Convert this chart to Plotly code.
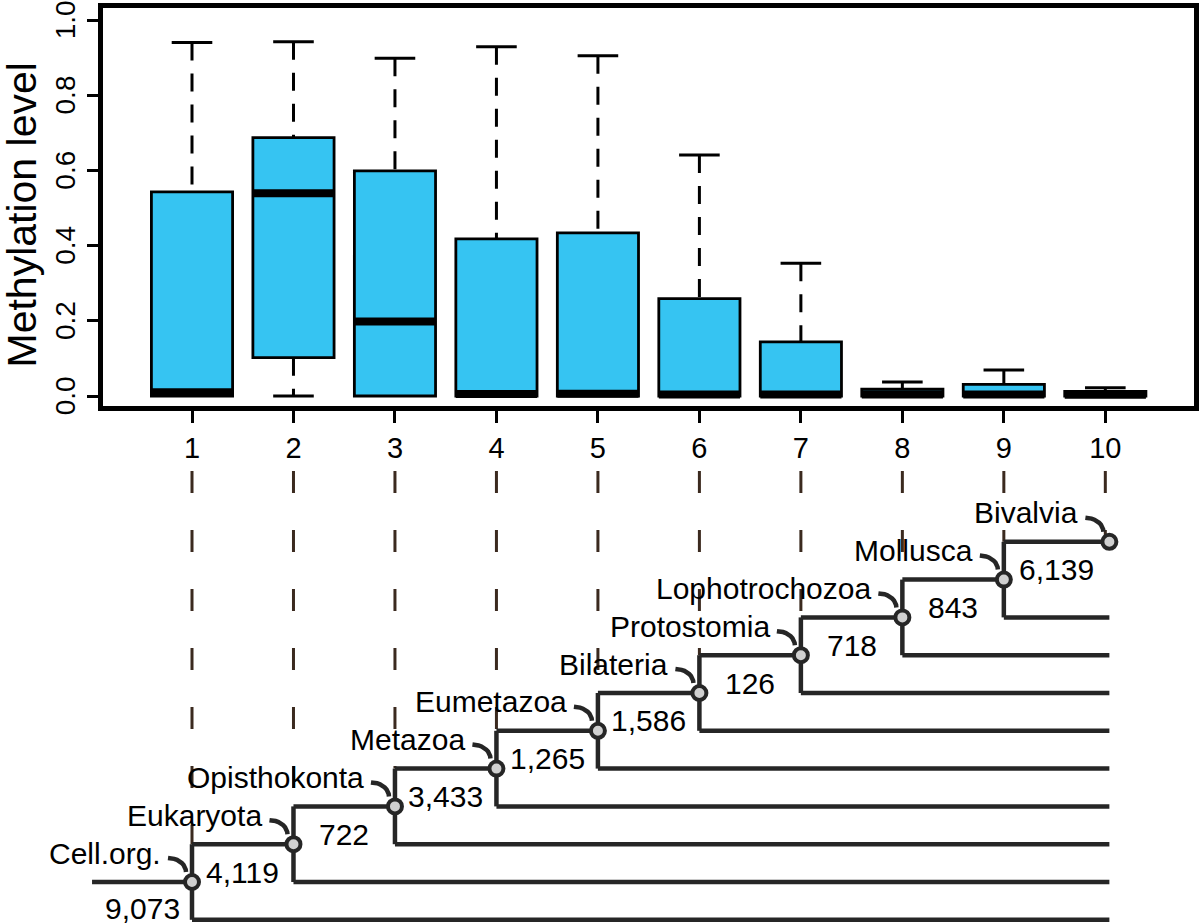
import math
import plotly.graph_objects as go

# ---------------- data ----------------
categories = [1, 2, 3, 4, 5, 6, 7, 8, 9, 10]
q1 = [0.0, 0.102, 0.0, 0.0, 0.0, 0.0, 0.0, 0.0, 0.0, 0.0]
median = [0.010, 0.539, 0.198, 0.005, 0.006, 0.004, 0.004, 0.004, 0.004, 0.003]
q3 = [0.543, 0.687, 0.599, 0.418, 0.434, 0.259, 0.144, 0.018, 0.031, 0.012]
lower_whisker = [0.0, 0.0, 0.0, 0.0, 0.0, 0.0, 0.0, 0.0, 0.0, 0.0]
upper_whisker = [0.940, 0.942, 0.898, 0.929, 0.905, 0.641, 0.353, 0.037, 0.069, 0.022]

clades = ["Cell.org.", "Eukaryota", "Opisthokonta", "Metazoa", "Eumetazoa",
          "Bilateria", "Protostomia", "Lophotrochozoa", "Mollusca", "Bivalvia"]
gene_counts = [9073, 4119, 722, 3433, 1265, 1586, 126, 718, 843, 6139]

y_ticks = [0.0, 0.2, 0.4, 0.6, 0.8, 1.0]

# ---------------- styles / geometry ----------------
W, H = 1200, 924
FONT = "Liberation Sans, Arial, Helvetica, sans-serif"
BOX_FILL = "#36C4F2"
TREE_COL = "#262626"
DASH_COL = "#3b2a1f"

# pixel geometry of the top panel
PX_POS1 = 192.0       # pixel x of category 1
PX_PER_X = 101.48     # pixels per category
PX_Y0 = 396.0         # pixel y of value 0
PX_PER_Y = 376.0      # pixels per unit value
IN_L, IN_R, IN_T, IN_B = 102.5, 1193.5, 8.3, 406.0

# pixel geometry of the tree panel
PX_LEVEL0 = 919.8
PX_PER_LEVEL = 37.8
TREE_TOP_PX = 455.0


def xr(px):
    return 1 + (px - PX_POS1) / PX_PER_X


def yr(px):
    return (PX_Y0 - px) / PX_PER_Y


def lvl(px):
    return (PX_LEVEL0 - px) / PX_PER_LEVEL


fig = go.Figure()

# ---------------- boxplot ----------------
fig.add_trace(go.Box(
    x=categories, q1=q1, median=median, q3=q3,
    lowerfence=q1, upperfence=q3,
    width=0.8, whiskerwidth=0, boxpoints=False,
    fillcolor=BOX_FILL, line=dict(color="black", width=2.8),
    xaxis="x", yaxis="y", showlegend=False, hoverinfo="skip",
))

# dashed whiskers
wx, wy = [], []
for c, lo, a, b, hi in zip(categories, lower_whisker, q1, q3, upper_whisker):
    wx += [c, c, None]
    wy += [hi, b, None]
    if a > lo:
        wx += [c, c, None]
        wy += [a, lo, None]
fig.add_trace(go.Scatter(x=wx, y=wy, mode="lines",
                         line=dict(color="black", width=3, dash="18px,13px"),
                         xaxis="x", yaxis="y", showlegend=False, hoverinfo="skip"))

# whisker caps
cx, cy = [], []
for c, lo, a, hi in zip(categories, lower_whisker, q1, upper_whisker):
    cx += [c - 0.2, c + 0.2, None]
    cy += [hi, hi, None]
    if a > lo:
        cx += [c - 0.2, c + 0.2, None]
        cy += [lo, lo, None]
fig.add_trace(go.Scatter(x=cx, y=cy, mode="lines",
                         line=dict(color="black", width=3),
                         xaxis="x", yaxis="y", showlegend=False, hoverinfo="skip"))

# thick medians
mx, my = [], []
for c, m in zip(categories, median):
    mx += [c - 0.4, c + 0.4, None]
    my += [m, m, None]
fig.add_trace(go.Scatter(x=mx, y=my, mode="lines",
                         line=dict(color="black", width=8),
                         xaxis="x", yaxis="y", showlegend=False, hoverinfo="skip"))

# ---------------- tree ----------------
n = len(clades)
node_x = list(categories[:-1]) + [categories[-1] + 0.04]
node_lvl = list(range(1, n + 1))
leaf_end = node_x[-1]
root_start = node_x[0] - 0.985
dash_top = lvl(471)

# dashed connectors from categories down to tree
dx, dy = [], []
for i, c in enumerate(categories):
    end = node_lvl[i] + 1 if i < n - 1 else node_lvl[i]
    dx += [c, c, None]
    dy += [dash_top, end, None]
fig.add_trace(go.Scatter(x=dx, y=dy, mode="lines",
                         line=dict(color=DASH_COL, width=3, dash="22px,37px"),
                         xaxis="x2", yaxis="y2", showlegend=False, hoverinfo="skip"))

tx, ty = [root_start, node_x[0], None], [node_lvl[0], node_lvl[0], None]
for i in range(n - 1):
    x0, L = node_x[i], node_lvl[i]
    tx += [x0, x0, None, x0, leaf_end, None, x0, node_x[i + 1], None]
    ty += [L - 1, L + 1, None, L - 1, L - 1, None, L + 1, L + 1, None]
fig.add_trace(go.Scatter(x=tx, y=ty, mode="lines",
                         line=dict(color=TREE_COL, width=4.5),
                         xaxis="x2", yaxis="y2", showlegend=False, hoverinfo="skip"))

# curved pointers from clade names to nodes
ax_, ay_ = [], []
rx, ry = 18 / PX_PER_X, 14 / PX_PER_LEVEL
for i in range(n):
    xc = node_x[i] - 24 / PX_PER_X
    yc = node_lvl[i] + 10 / PX_PER_LEVEL
    for t in range(0, 91, 10):
        th = math.radians(90 - t)
        ax_.append(xc + rx * math.cos(th))
        ay_.append(yc + ry * math.sin(th))
    ax_.append(None)
    ay_.append(None)
fig.add_trace(go.Scatter(x=ax_, y=ay_, mode="lines",
                         line=dict(color=TREE_COL, width=4.5),
                         xaxis="x2", yaxis="y2", showlegend=False, hoverinfo="skip"))

# node circles
fig.add_trace(go.Scatter(x=node_x, y=node_lvl, mode="markers",
                         marker=dict(size=14, color="#d0d0d0",
                                     line=dict(color=TREE_COL, width=4)),
                         xaxis="x2", yaxis="y2", showlegend=False, hoverinfo="skip",
                         cliponaxis=False))

annotations = []
for i in range(n):
    annotations.append(dict(
        x=node_x[i] - 29 / PX_PER_X, y=node_lvl[i] + 29 / PX_PER_LEVEL,
        xref="x2", yref="y2", text=clades[i], showarrow=False,
        xanchor="right", yanchor="middle",
        font=dict(family=FONT, size=30, color="black")))
    if i == 0:
        nx_, ny_ = node_x[0] - 0.49, node_lvl[0] - 26 / PX_PER_LEVEL
    else:
        nx_ = (node_x[i - 1] + node_x[i]) / 2
        ny_ = node_lvl[i - 1] + 10 / PX_PER_LEVEL
    annotations.append(dict(
        x=nx_, y=ny_, xref="x2", yref="y2", text=f"{gene_counts[i]:,}",
        showarrow=False, xanchor="center", yanchor="middle",
        font=dict(family=FONT, size=30, color="black")))

annotations.append(dict(
    x=21 / W, y=(H - 215.5) / H, xref="paper", yref="paper",
    text="Methylation level", textangle=-90, showarrow=False,
    xanchor="center", yanchor="middle",
    font=dict(family=FONT, size=41, color="black")))

fig.update_layout(
    width=W, height=H,
    margin=dict(l=0, r=0, t=0, b=0, pad=0),
    paper_bgcolor="white", plot_bgcolor="white",
    font=dict(family=FONT, size=30, color="black"),
    showlegend=False,
    annotations=annotations,
    xaxis=dict(domain=[IN_L / W, IN_R / W], range=[xr(IN_L), xr(IN_R)],
               tickmode="array", tickvals=categories, ticktext=[str(c) for c in categories],
               ticks="outside", ticklen=12, tickwidth=3, tickcolor="black",
               showline=True, linewidth=5, linecolor="black", mirror=True,
               showgrid=False, zeroline=False, automargin=False,
               ticklabeloverflow="allow",
               tickfont=dict(family=FONT, size=29, color="black"), anchor="y"),
    yaxis=dict(domain=[(H - IN_B) / H, (H - IN_T) / H], range=[yr(IN_B), yr(IN_T)],
               tickmode="array", tickvals=y_ticks, ticktext=[f"{v:.1f}" for v in y_ticks],
               tickangle=-90, ticklabelshift=4,
               ticks="outside", ticklen=11, tickwidth=3, tickcolor="black",
               showline=True, linewidth=5, linecolor="black", mirror=True,
               showgrid=False, zeroline=False, automargin=False,
               ticklabeloverflow="allow",
               tickfont=dict(family=FONT, size=28, color="black"), anchor="x"),
    xaxis2=dict(domain=[0, 1], range=[xr(0), xr(W)], visible=False, anchor="y2"),
    yaxis2=dict(domain=[0, (H - TREE_TOP_PX) / H], range=[lvl(H), lvl(TREE_TOP_PX)],
                visible=False, anchor="x2"),
)

fig.write_html(
    "out.html",
    config={"displayModeBar": False},
    post_script="document.body.style.margin='0px';document.body.style.overflow='hidden';",
)
